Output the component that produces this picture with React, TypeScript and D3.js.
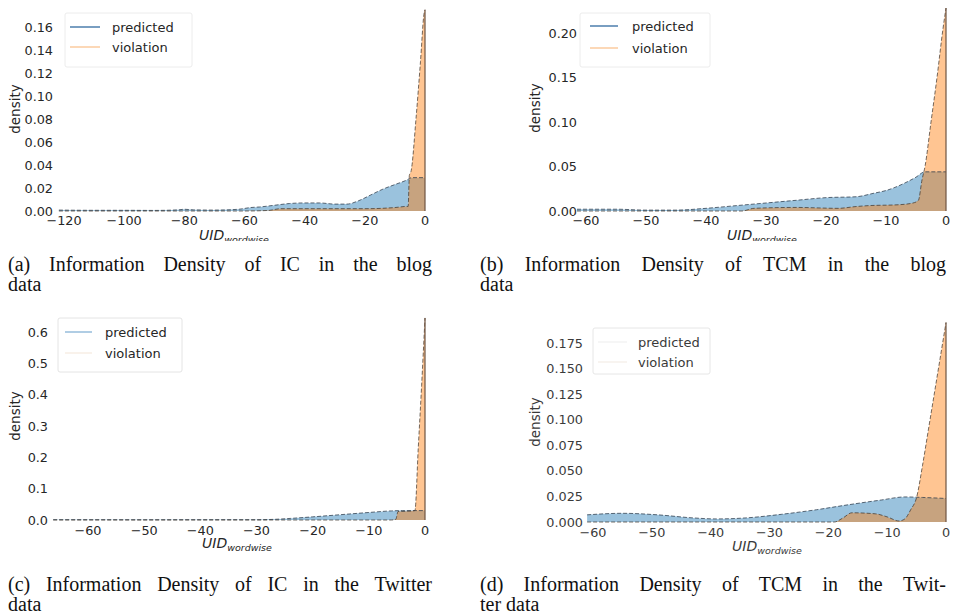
import { useMemo } from 'react';
import * as d3 from 'd3';

// ---- data (UID_wordwise densities) ----
// (a) IC, blog
const predA_x = [-121.7, -110, -100, -90, -82, -80, -77, -70, -62, -58, -55, -50, -45, -40, -35, -30, -26, -22, -18, -14, -10, -6, -4.5, 0];
const predA_y = [0.0008, 0.0006, 0.0006, 0.0005, 0.001, 0.0015, 0.001, 0.0008, 0.0015, 0.003, 0.0035, 0.005, 0.0065, 0.007, 0.007, 0.006, 0.006, 0.009, 0.014, 0.019, 0.023, 0.027, 0.029, 0.029];
const violA_x = [-121.7, -60, -52, -48, -40, -30, -20, -10, -6, -5.6, -5.2, -4.6, -3, -1.5, -0.3, 0];
const violA_y = [0, 0, 0.0005, 0.002, 0.002, 0.002, 0.002, 0.003, 0.004, 0.004, 0.031, 0.035, 0.08, 0.13, 0.172, 0.175];

// (b) TCM, blog
const predB_x = [-61.5, -55, -50, -45, -40, -35, -30, -25, -20, -15, -12, -10, -7, -5, -3.5, 0];
const predB_y = [0.002, 0.002, 0.001, 0.001, 0.003, 0.006, 0.009, 0.012, 0.015, 0.016, 0.02, 0.023, 0.031, 0.038, 0.044, 0.044];
const violB_x = [-61.5, -34, -32, -25, -18, -15, -13, -8, -5.5, -4.6, -4.0, -3.5, -2.5, -1.5, -0.5, 0];
const violB_y = [0, 0, 0.003, 0.004, 0.003, 0.005, 0.006, 0.007, 0.009, 0.012, 0.035, 0.05, 0.1, 0.15, 0.205, 0.228];

// (c) IC, Twitter
const predC_x = [-66.2, -60, -50, -40, -30, -27, -24, -20, -15, -10, -6, -4, 0];
const predC_y = [0.001, 0.001, 0.0008, 0.001, 0.001, 0.002, 0.005, 0.01, 0.017, 0.024, 0.029, 0.03, 0.03];
const violC_x = [-66.2, -6, -5.2, -4.8, -3, -1.8, -1.2, -0.6, 0];
const violC_y = [0, 0, 0.002, 0.027, 0.028, 0.03, 0.23, 0.43, 0.645];

// (d) TCM, Twitter
const predD_x = [-61, -55, -49, -43, -39, -34, -28, -22, -17, -11, -7, -4, 0];
const predD_y = [0.007, 0.0085, 0.007, 0.004, 0.003, 0.004, 0.0075, 0.012, 0.0165, 0.0215, 0.0245, 0.024, 0.023];
const violD_x = [-61, -19, -17.5, -16, -12, -10, -8, -7, -6, -5, -4, -3, -2, -1, 0];
const violD_y = [0, 0, 0.004, 0.009, 0.008, 0.005, 0.001, 0.003, 0.012, 0.024, 0.055, 0.09, 0.125, 0.16, 0.195];

// ticks
const ticksA_x = [-120, -100, -80, -60, -40, -20, 0];
const ticksA_y = [0, 0.02, 0.04, 0.06, 0.08, 0.1, 0.12, 0.14, 0.16];
const ticksB_x = [-60, -50, -40, -30, -20, -10, 0];
const ticksB_y = [0, 0.05, 0.1, 0.15, 0.2];
const ticksC_x = [-60, -50, -40, -30, -20, -10, 0];
const ticksC_y = [0, 0.1, 0.2, 0.3, 0.4, 0.5, 0.6];
const ticksD_x = [-60, -50, -40, -30, -20, -10, 0];
const ticksD_y = [0, 0.025, 0.05, 0.075, 0.1, 0.125, 0.15, 0.175];

const seriesNames = ['predicted', 'violation'];

const captionsFirst = [
  '(a) Information Density of IC in the blog',
  '(b) Information Density of TCM in the blog',
  '(c) Information Density of IC in the Twitter',
  '(d) Information Density of TCM in the Twit-',
];
const captionsSecond = ['data', 'data', 'data', 'ter data'];

const SANS = "'DejaVu Sans', sans-serif";
const SERIF = "'Liberation Serif', 'Times New Roman', serif";
const CAP_SIZE = 20;

const BLUE = '#1f77b4';
const ORANGE = '#ff7f0e';

interface Legend {
  x: number; y: number; w: number; h: number;
  lx1: number; lx2: number; tx: number; y1: number; y2: number;
  c1: string; c2: string; textColor: string; border: string;
}

interface PanelDef {
  px: number[]; py: number[]; vx: number[]; vy: number[];
  xDom: [number, number]; xRange: [number, number];
  yDom: [number, number]; yRange: [number, number];
  tx: number[]; ty: number[]; fmt: string;
  tickRight: number; xTickBase: number;
  ylab: [number, number]; xlab: [number, number];
  legend: Legend; tickColor: string; clipY?: number;
}

function toPts(xs: number[], ys: number[]) {
  return xs.map((x, i) => [x, ys[i]] as [number, number]);
}

const minus = (s: string) => s.replace('-', '\u2212');

function Panel({ d, id }: { d: PanelDef; id: string }) {
  const x = d3.scaleLinear().domain(d.xDom).range(d.xRange);
  const y = d3.scaleLinear().domain(d.yDom).range(d.yRange);
  const fmtY = d3.format(d.fmt);
  const fmtX = d3.format('d');
  const area = d3.area<[number, number]>()
    .x((p) => x(p[0])).y0(y(0)).y1((p) => y(p[1]))
    .curve(d3.curveMonotoneX);
  const line = d3.line<[number, number]>()
    .x((p) => x(p[0])).y((p) => y(p[1]))
    .curve(d3.curveMonotoneX);
  const pred = toPts(d.px, d.py);
  const viol = toPts(d.vx, d.vy);
  const peak = Math.max(d.vy[d.vy.length - 1], d.py[d.py.length - 1]);
  const L = d.legend;

  return (
    <g>
      {d.clipY !== undefined && (
        <defs>
          <clipPath id={id}>
            <rect x={0} y={0} width={963} height={d.clipY} />
          </clipPath>
        </defs>
      )}
      <path d={area(pred) || ''} fill={BLUE} fillOpacity={0.45} />
      <path d={area(viol) || ''} fill={ORANGE} fillOpacity={0.45} />
      <path d={line(pred) || ''} fill="none" stroke="#2b3a4a" strokeWidth={1} strokeDasharray="4,2" strokeOpacity={0.75} />
      <path d={line(viol) || ''} fill="none" stroke="#3a3028" strokeWidth={1} strokeDasharray="4,2" strokeOpacity={0.7} />
      <line x1={x(0)} x2={x(0)} y1={y(0)} y2={y(peak)} stroke="#6e5442" strokeWidth={1.2} />

      {d.ty.map((v) => (
        <text key={'y' + v} x={d.tickRight} y={y(v)} textAnchor="end" dominantBaseline="central"
          fontFamily={SANS} fontSize={12.8} fill={d.tickColor}>{fmtY(v)}</text>
      ))}
      {d.tx.map((v) => (
        <text key={'x' + v} x={x(v)} y={d.xTickBase} textAnchor="middle"
          fontFamily={SANS} fontSize={12.8} fill={d.tickColor}>{minus(fmtX(v))}</text>
      ))}

      <text transform={`translate(${d.ylab[0]},${d.ylab[1]}) rotate(-90)`} textAnchor="middle"
        dominantBaseline="central" fontFamily={SANS} fontSize={13.5} fill={d.tickColor}>density</text>

      <g clipPath={d.clipY !== undefined ? `url(#${id})` : undefined}>
        <text x={d.xlab[0]} y={d.xlab[1]} fontFamily={SANS} fontStyle="italic" fontSize={14} fill={d.tickColor}>
          UID<tspan fontSize={9.5} dy={3}>wordwise</tspan>
        </text>
      </g>

      <rect x={L.x} y={L.y} width={L.w} height={L.h} rx={2} fill="#fff" fillOpacity={0.8} stroke={L.border} strokeWidth={1} />
      <line x1={L.lx1} x2={L.lx2} y1={L.y1} y2={L.y1} stroke={L.c1} strokeWidth={1.4} />
      <line x1={L.lx1} x2={L.lx2} y1={L.y2} y2={L.y2} stroke={L.c2} strokeWidth={1.4} />
      <text x={L.tx} y={L.y1} dominantBaseline="central" fontFamily={SANS} fontSize={13} fill={L.textColor}>{seriesNames[0]}</text>
      <text x={L.tx} y={L.y2} dominantBaseline="central" fontFamily={SANS} fontSize={13} fill={L.textColor}>{seriesNames[1]}</text>
    </g>
  );
}

function justifyWords(text: string, x0: number, x1: number) {
  const words = text.split(' ');
  const canvas = document.createElement('canvas');
  const ctx = canvas.getContext('2d');
  const widths = words.map((w) => {
    if (!ctx) return w.length * CAP_SIZE * 0.45;
    ctx.font = `${CAP_SIZE}px 'Liberation Serif'`;
    return ctx.measureText(w).width;
  });
  const total = d3.sum(widths);
  const gap = (x1 - x0 - total) / Math.max(words.length - 1, 1);
  let cur = x0;
  return words.map((w, i) => {
    const pos = cur;
    cur += widths[i] + gap;
    return { w, x: pos };
  });
}

export default function App() {
  const panels: PanelDef[] = [
    {
      px: predA_x, py: predA_y, vx: violA_x, vy: violA_y,
      xDom: [-120, 0], xRange: [64, 425], yDom: [0, 0.16], yRange: [211, 27],
      tx: ticksA_x, ty: ticksA_y, fmt: '.2f', tickRight: 53, xTickBase: 225,
      ylab: [15, 109], xlab: [199, 240], tickColor: '#262626', clipY: 241,
      legend: { x: 65, y: 13, w: 127, h: 54, lx1: 70, lx2: 100, tx: 112, y1: 27, y2: 47,
        c1: '#3f74a6', c2: '#fbc898', textColor: '#262626', border: '#ececec' },
    },
    {
      px: predB_x, py: predB_y, vx: violB_x, vy: violB_y,
      xDom: [-60, 0], xRange: [586, 946], yDom: [0, 0.2], yRange: [211, 33],
      tx: ticksB_x, ty: ticksB_y, fmt: '.2f', tickRight: 577, xTickBase: 225,
      ylab: [535, 108], xlab: [727, 240], tickColor: '#262626', clipY: 241,
      legend: { x: 580, y: 13, w: 130, h: 54, lx1: 590, lx2: 618, tx: 632, y1: 26, y2: 48,
        c1: '#3f74a6', c2: '#fbc898', textColor: '#262626', border: '#ececec' },
    },
    {
      px: predC_x, py: predC_y, vx: violC_x, vy: violC_y,
      xDom: [-60, 0], xRange: [88, 425], yDom: [0, 0.6], yRange: [520, 332],
      tx: ticksC_x, ty: ticksC_y, fmt: '.1f', tickRight: 48, xTickBase: 535,
      ylab: [15, 416], xlab: [202, 548], tickColor: '#262626',
      legend: { x: 58, y: 318, w: 124, h: 54, lx1: 65, lx2: 92, tx: 105, y1: 332, y2: 353,
        c1: '#8fb8d8', c2: '#f7ece2', textColor: '#262626', border: '#e4e4e4' },
    },
    {
      px: predD_x, py: predD_y, vx: violD_x, vy: violD_y,
      xDom: [-60, 0], xRange: [593, 946], yDom: [0, 0.175], yRange: [522, 343],
      tx: ticksD_x, ty: ticksD_y, fmt: '.3f', tickRight: 583, xTickBase: 537,
      ylab: [535, 422], xlab: [732, 551], tickColor: '#3a3a3a',
      legend: { x: 593, y: 328, w: 117, h: 46, lx1: 598, lx2: 627, tx: 638, y1: 342, y2: 362,
        c1: '#f2f2f2', c2: '#f5f0ea', textColor: '#3a3a3a', border: '#e6e6e6' },
    },
  ];

  const capPos = [
    { x0: 8, x1: 432, y1: 271, y2: 291 },
    { x0: 480, x1: 946, y1: 271, y2: 291 },
    { x0: 8, x1: 432, y1: 591, y2: 611 },
    { x0: 480, x1: 946, y1: 591, y2: 611 },
  ];

  const justified = useMemo(
    () => captionsFirst.map((c, i) => justifyWords(c, capPos[i].x0, capPos[i].x1)),
    // eslint-disable-next-line react-hooks/exhaustive-deps
    []
  );

  return (
    <svg width={963} height={614} style={{ position: 'absolute', left: 0, top: 0, background: '#fff' }}>
      {panels.map((p, i) => (
        <Panel key={i} d={p} id={`clip-${i}`} />
      ))}
      {justified.map((words, i) => (
        <g key={'cap' + i}>
          {words.map((w, j) => (
            <text key={j} x={w.x} y={capPos[i].y1} fontFamily={SERIF} fontSize={CAP_SIZE} fill="#111">{w.w}</text>
          ))}
          <text x={capPos[i].x0} y={capPos[i].y2} fontFamily={SERIF} fontSize={CAP_SIZE} fill="#111">{captionsSecond[i]}</text>
        </g>
      ))}
    </svg>
  );
}
